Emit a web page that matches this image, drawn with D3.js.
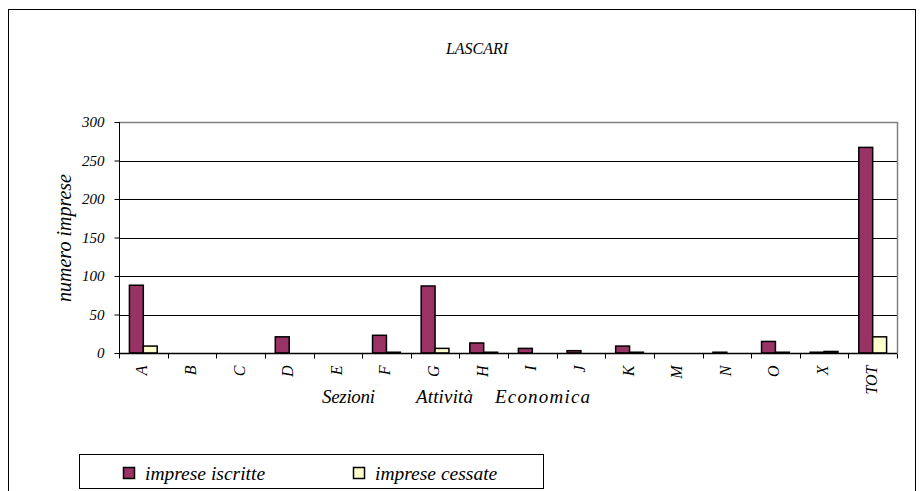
<!DOCTYPE html>
<html><head><meta charset="utf-8">
<script src="https://cdn.jsdelivr.net/npm/d3@7"></script>
</head>
<body style="margin:0;background:#fff"><svg id="chart" width="921" height="491" style="font-family:'Liberation Serif';font-style:italic"></svg>
<script>
const categories = ["A","B","C","D","E","F","G","H","I","J","K","M","N","O","X","TOT"];
const seriesNames = ["imprese iscritte","imprese cessate"];
const iscritte = [88,0,0,21,0,23,87,13,6,3,9,0,1,15,1,267];
const cessate  = [9,0,0,0,0,1,6,1,0,0,1,0,0,1,2,21];
const yTicks = [0,50,100,150,200,250,300];
const xTitleWords = ["Sezioni","Attività","Economica"];
const colors = ["#993366","#FFFFCC"];

const svg = d3.select("#chart");
const m = {left:119, right:897, top:122, bottom:353};
function serif(sel, size){
  return sel.attr("font-family","Liberation Serif").style("font-family",'"Liberation Serif"')
    .style("font-style","italic").attr("font-size",size).attr("fill","#000");
}

svg.append("rect").attr("x",8.5).attr("y",9.5).attr("width",907).attr("height",500)
  .attr("fill","none").attr("stroke","#000").attr("stroke-width",1);

serif(svg.append("text"),16).attr("x",477).attr("y",54).attr("text-anchor","middle").text("LASCARI");

const x = d3.scaleBand().domain(categories).range([m.left,m.right]).paddingInner(0).paddingOuter(0);
const bw = x.bandwidth()/3.5;
const x1 = d3.scaleBand().domain(seriesNames).range([0,2*bw]);
const y = d3.scaleLinear().domain([0,300]).range([m.bottom,m.top]);

svg.append("g").selectAll("line").data(yTicks.filter(d=>d>0 && d<300)).join("line")
  .attr("x1",m.left).attr("x2",m.right)
  .attr("y1",d=>Math.round(y(d))+0.5).attr("y2",d=>Math.round(y(d))+0.5)
  .attr("stroke","#000").attr("stroke-width",1);
svg.append("path").attr("d",`M${m.left},${m.top+0.5}H${m.right+0.5}V${m.bottom}`)
  .attr("fill","none").attr("stroke","#808080").attr("stroke-width",1.5);

const data = categories.map((c,i)=>({cat:c, vals:[iscritte[i],cessate[i]]}));
const groups = svg.append("g").selectAll("g").data(data).join("g")
  .attr("transform",d=>`translate(${x(d.cat)+(x.bandwidth()-2*bw)/2},0)`);
groups.selectAll("rect").data(d=>d.vals.map((v,j)=>({s:seriesNames[j],v,j}))).join("rect")
  .attr("x",d=>x1(d.s)).attr("width",x1.bandwidth())
  .attr("y",d=>y(d.v)).attr("height",d=>y(0)-y(d.v))
  .attr("fill",d=>colors[d.j]).attr("stroke","#000").attr("stroke-width",1.5);

const yAxis = d3.axisLeft(y).tickValues(yTicks).tickSize(5).tickPadding(10);
const gy = svg.append("g").attr("transform",`translate(${m.left+0.5},0)`).call(yAxis)
  .attr("font-family","Liberation Serif").attr("font-size",15);
gy.select(".domain").attr("stroke","#000").attr("d",`M0,${m.top}V${m.bottom}`);
serif(gy.selectAll("text"),15);

const gx = svg.append("g").attr("transform",`translate(0,${m.bottom+0.5})`);
gx.append("line").attr("x1",m.left).attr("x2",m.right).attr("stroke","#000").attr("stroke-width",1.5);
const bounds = categories.map(c=>x(c)).concat([m.right]);
gx.selectAll("line.tick").data(bounds).join("line").attr("class","tick")
  .attr("x1",d=>Math.round(d)+0.5).attr("x2",d=>Math.round(d)+0.5).attr("y1",0).attr("y2",5)
  .attr("stroke","#000");
serif(gx.selectAll("text").data(categories).join("text"),16)
  .attr("transform",d=>`translate(${x(d)+x.bandwidth()/2+4},${12}) rotate(-90)`)
  .attr("text-anchor","end").text(d=>d);

const titleX = [322,416,495], titleW = [53,57,95];
xTitleWords.forEach((w,i)=>{
  serif(svg.append("text"),19).attr("x",titleX[i]).attr("y",403)
    .attr("textLength",titleW[i]).attr("lengthAdjust","spacing").text(w);
});

serif(svg.append("text"),20).attr("transform","translate(71,238) rotate(-90)").attr("text-anchor","middle")
  .text("numero imprese");

const lg = svg.append("g");
lg.append("rect").attr("x",79.5).attr("y",454.5).attr("width",464).attr("height",34)
  .attr("fill","#fff").attr("stroke","#000").attr("stroke-width",1);
const lx = [123,353];
seriesNames.forEach((s,i)=>{
  lg.append("rect").attr("x",lx[i]+0.5).attr("y",467.5).attr("width",11).attr("height",11)
    .attr("fill",colors[i]).attr("stroke","#000").attr("stroke-width",1.5);
  serif(lg.append("text"),19.5).attr("x",lx[i]+22).attr("y",480).text(s);
});
</script></body></html>
